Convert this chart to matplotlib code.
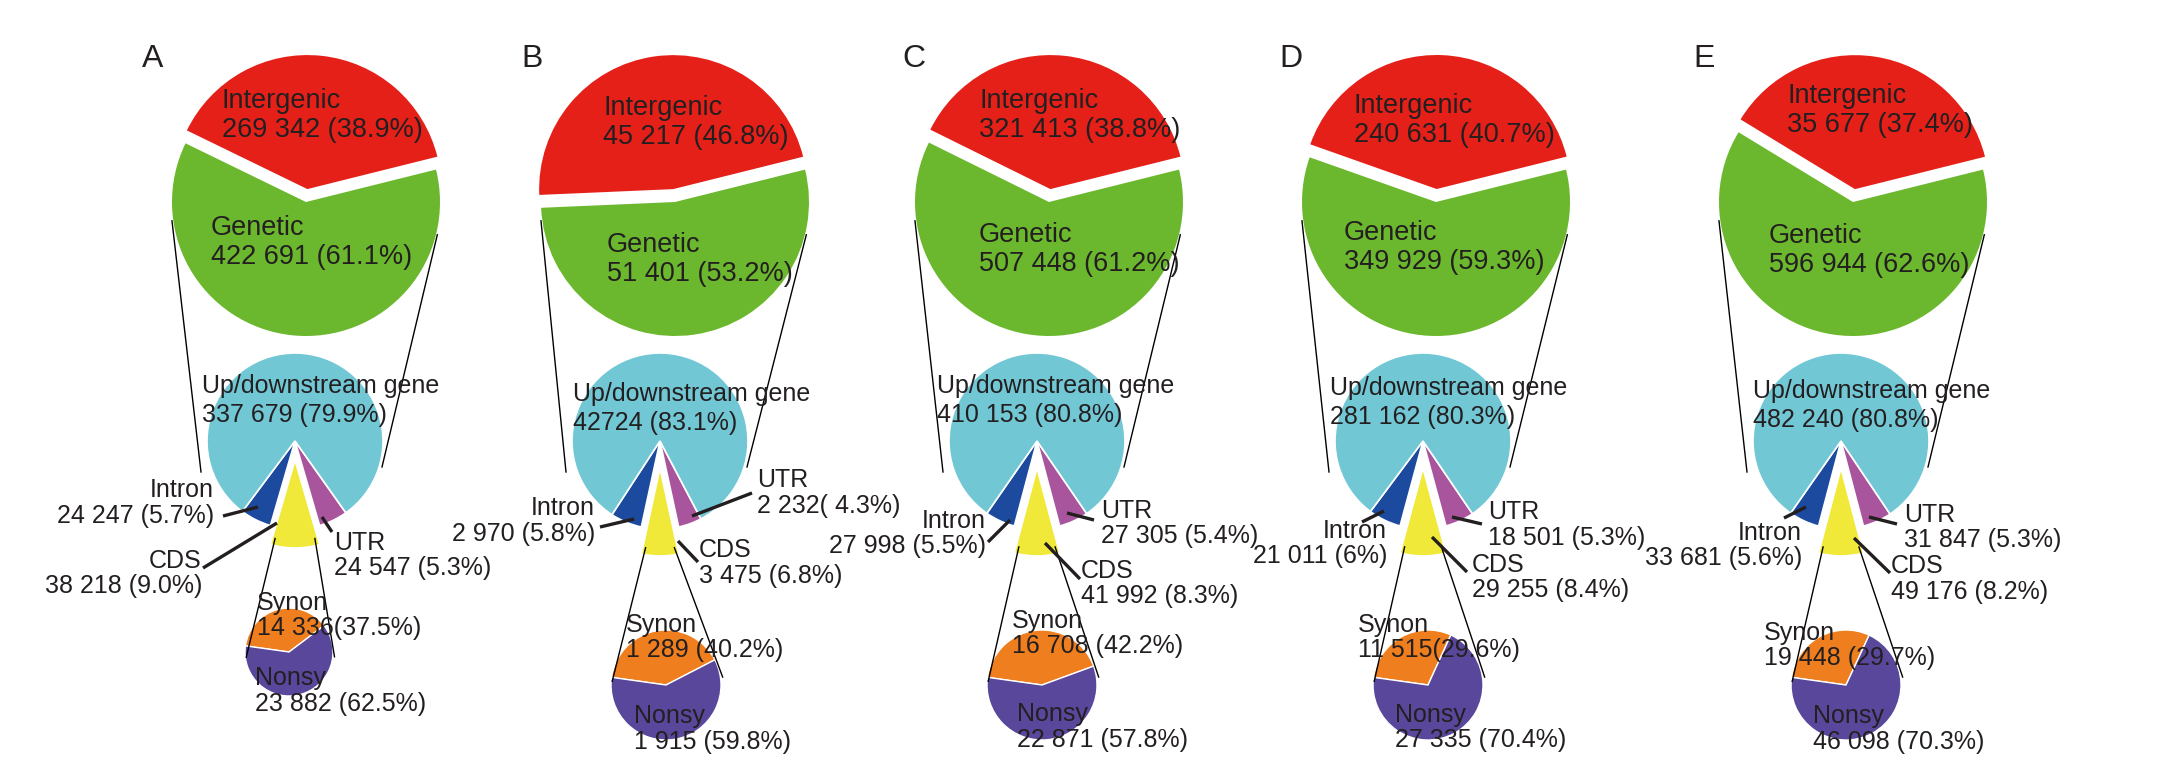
import numpy as np
import matplotlib.pyplot as plt

plt.rcParams['font.family'] = ['Liberation Sans', 'DejaVu Sans']

W, H = 2172, 771

# data (the pies follow the printed percentages)
panels = ["A", "B", "C", "D", "E"]
intergenic_pct = [38.9, 46.8, 38.8, 40.7, 37.4]
genetic_pct = [61.1, 53.2, 61.2, 59.3, 62.6]
updown_pct = [79.9, 83.1, 80.8, 80.3, 80.8]
intron_pct = [5.7, 5.8, 5.5, 6.0, 5.6]
cds_pct = [9.0, 6.8, 8.3, 8.4, 8.2]
utr_pct = [5.3, 4.3, 5.4, 5.3, 5.3]
synon_pct = [37.5, 40.2, 42.2, 29.6, 29.7]
nonsy_pct = [62.5, 59.8, 57.8, 70.4, 70.3]

intergenic_lbl = ["269 342 (38.9%)", "45 217 (46.8%)", "321 413 (38.8%)", "240 631 (40.7%)", "35 677 (37.4%)"]
genetic_lbl = ["422 691 (61.1%)", "51 401 (53.2%)", "507 448 (61.2%)", "349 929 (59.3%)", "596 944 (62.6%)"]
updown_lbl = ["337 679 (79.9%)", "42724 (83.1%)", "410 153 (80.8%)", "281 162 (80.3%)", "482 240 (80.8%)"]
intron_lbl = ["24 247 (5.7%)", "2 970 (5.8%)", "27 998 (5.5%)", "21 011 (6%)", "33 681 (5.6%)"]
cds_lbl = ["38 218 (9.0%)", "3 475 (6.8%)", "41 992 (8.3%)", "29 255 (8.4%)", "49 176 (8.2%)"]
utr_lbl = ["24 547 (5.3%)", "2 232( 4.3%)", "27 305 (5.4%)", "18 501 (5.3%)", "31 847 (5.3%)"]
synon_lbl = ["14 336(37.5%)", "1 289 (40.2%)", "16 708 (42.2%)", "11 515(29.6%)", "19 448 (29.7%)"]
nonsy_lbl = ["23 882 (62.5%)", "1 915 (59.8%)", "22 871 (57.8%)", "27 335 (70.4%)", "46 098 (70.3%)"]

# colours
RED, GREEN = '#e52019', '#6bb82e'
CYAN, BLUE, YELLOW, PURPLE = '#72c7d5', '#1b4a9e', '#f0e93a', '#a9559e'
ORANGE, VIOLET = '#ee7e1e', '#58479a'
TXT = '#231f20'

# layout (pixel coords, y measured from top)
top_cx = [306, 675, 1049, 1436, 1853]
top_cy, top_r = 202, 134
mid_cx = [295, 660, 1037, 1423, 1841]
mid_cy, mid_r = 441, 88
cds_expl = [19, 27, 27, 27, 27]
bot_cx = [289, 666, 1042, 1428, 1846]
bot_cy = [652, 685, 685, 685, 685]
bot_r = [44, 55, 55, 55, 55]
bot_angL = [187, 176, 176, 176, 176]
bot_angR = [-6, 8, 8, 8, 8]

letter_xy = [(142, 67), (521, 67), (902, 67), (1279, 67), (1693, 67)]
inter_xy = [(222, 108), (603, 115), (979, 108), (1354, 113), (1787, 103)]
gen_xy = [(211, 235), (607, 252), (979, 242), (1344, 240), (1769, 243)]
up_xy = [(202, 393), (573, 401), (937, 393), (1330, 395), (1753, 398)]
intron_xy = [(214, 497), (595, 515), (986, 528), (1387, 538), (1802, 540)]
cds_xy = [(202, 568), (699, 557), (1081, 578), (1472, 572), (1891, 573)]
cds_ha = ['right', 'left', 'left', 'left', 'left']
utr_xy = [(334, 550), (757, 487), (1101, 518), (1488, 519), (1904, 522)]
syn_xy = [(257, 610), (626, 632), (1012, 628), (1358, 632), (1764, 640)]
non_xy = [(255, 685), (634, 723), (1017, 721), (1395, 722), (1813, 723)]

intron_lead = [((223, 516), (258, 507)), ((600, 527), (634, 519)), ((988, 542), (1010, 520)),
               ((1362, 522), (1384, 511)), ((1784, 518), (1806, 507))]
cds_lead = [((203, 568), (277, 523)), ((678, 541), (698, 562)), ((1045, 543), (1080, 579)),
            ((1432, 537), (1467, 572)), ((1854, 538), (1890, 573))]
utr_lead = [((322, 517), (332, 532)), ((692, 516), (752, 493)), ((1067, 513), (1094, 520)),
            ((1452, 517), (1482, 524)), ((1869, 517), (1897, 524))]


def Y(y):
    return H - y


def pt(c, r, ang):
    a = np.deg2rad(ang)
    return c[0] + r * np.cos(a), c[1] + r * np.sin(a)


def label(x, y, name, value, size, gap, ha='left'):
    ax.text(x, Y(y), name, fontsize=size, color=TXT, ha=ha, va='baseline')
    ax.text(x, Y(y + gap), value, fontsize=size, color=TXT, ha=ha, va='baseline')


fig = plt.figure(figsize=(W / 100, H / 100), dpi=100)
ax = fig.add_axes([0, 0, 1, 1])

for i in range(len(panels)):
    # top pie: intergenic vs genetic
    ctop = (top_cx[i], Y(top_cy))
    ax.pie([intergenic_pct[i], genetic_pct[i]], colors=[RED, GREEN], startangle=14,
           explode=[13, 0], radius=top_r, center=ctop,
           wedgeprops=dict(linewidth=0))

    # middle pie: genetic breakdown
    cmid = (mid_cx[i], Y(mid_cy))
    vals = [intron_pct[i], cds_pct[i], utr_pct[i], updown_pct[i]]
    fr = np.array(vals) / np.sum(vals) * 360
    start = 270 - fr[1] / 2 - fr[0]
    ax.pie(vals, colors=[BLUE, YELLOW, PURPLE, CYAN], startangle=start,
           explode=[0, cds_expl[i], 0, 0], radius=mid_r, center=cmid,
           wedgeprops=dict(edgecolor='white', linewidth=1.2))

    # bottom pie: CDS breakdown
    cbot = (bot_cx[i], Y(bot_cy[i]))
    sv = [synon_pct[i], nonsy_pct[i]]
    sdeg = sv[0] / sum(sv) * 360
    ax.pie(sv, colors=[ORANGE, VIOLET], startangle=172 - sdeg,
           radius=bot_r[i], center=cbot,
           wedgeprops=dict(edgecolor='white', linewidth=1))

    # connectors top -> middle
    for a_top, off in [(188, (-94, -31)), (-14, (87, -26))]:
        p1 = pt(ctop, top_r * 1.01, a_top)
        p2 = (cmid[0] + off[0], cmid[1] + off[1])
        ax.plot([p1[0], p2[0]], [p1[1], p2[1]], color='black', lw=1.0)

    # connectors CDS -> bottom
    cex = (cmid[0], cmid[1] - cds_expl[i])
    half = fr[1] / 2
    for a_c, a_b, fac in [(270 - half + 2, bot_angL[i], 0.98), (270 + half - 2, bot_angR[i], 1.04)]:
        p1 = pt(cex, mid_r * 0.92, a_c)
        p2 = pt(cbot, bot_r[i] * fac, a_b)
        ax.plot([p1[0], p2[0]], [p1[1], p2[1]], color='black', lw=1.0)

    # leader lines
    for (a, b) in [intron_lead[i], cds_lead[i], utr_lead[i]]:
        ax.plot([a[0], b[0]], [Y(a[1]), Y(b[1])], color=TXT, lw=2.4, solid_capstyle='butt')

    # texts
    ax.text(letter_xy[i][0], Y(letter_xy[i][1]), panels[i], fontsize=23, color=TXT, va='baseline')
    label(*inter_xy[i], "Intergenic", intergenic_lbl[i], 19.5, 29)
    label(*gen_xy[i], "Genetic", genetic_lbl[i], 19.5, 29)
    label(*up_xy[i], "Up/downstream gene", updown_lbl[i], 18, 29)
    label(*intron_xy[i], "Intron", intron_lbl[i], 18, 25.5, ha='right')
    label(*cds_xy[i], "CDS", cds_lbl[i], 18, 25.5, ha=cds_ha[i])
    label(*utr_xy[i], "UTR", utr_lbl[i], 18, 25.5)
    label(*syn_xy[i], "Synon", synon_lbl[i], 18, 25.5)
    label(*non_xy[i], "Nonsy", nonsy_lbl[i], 18, 25.5)

ax.set_xlim(0, W)
ax.set_ylim(0, H)
ax.set_aspect('equal')
ax.axis('off')

fig.savefig('out.png', dpi=100)
